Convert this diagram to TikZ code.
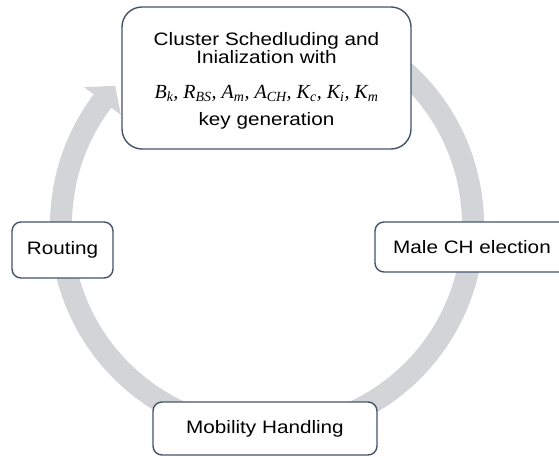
\documentclass[tikz,border=0pt]{standalone}
\usepackage{fontspec}
\setmainfont{Liberation Sans}[FakeStretch=1.15]
\newfontfamily\tmsfont{Liberation Serif}
\usetikzlibrary{calc}
\definecolor{ringgray}{HTML}{D3D4D8}
\definecolor{boxline}{HTML}{44546A}
\tikzset{
  stagebox/.style={draw=boxline, line width=1.4pt, fill=white, rounded corners=9pt,
    inner sep=0pt, font=\fontsize{18}{18}\selectfont, align=center},
}
\begin{document}
\begin{tikzpicture}[x=1pt,y=1pt]
\useasboundingbox (0,0) rectangle (559,457);
\clip (0,0) rectangle (559,457);
\coordinate (c) at (267,232);
% circular arrow
\fill[ringgray]
  ($(c)+(60:217pt)$) arc[start angle=60, end angle=-217, radius=217pt]
  -- ($(c)+(-217:229pt)$)
  -- ($(c)+(-222.5:206pt)$)
  -- ($(c)+(-217:183pt)$)
  -- ($(c)+(-217:195pt)$) arc[start angle=-217, end angle=60, radius=195pt]
  -- cycle;
% stages
\node[stagebox, rounded corners=20pt, minimum width=289pt, minimum height=142pt] (top) at (266.5,379)
  {\rule{0pt}{18pt}Cluster Schedluding and\\Inialization with\\[17pt]
   {\fontsize{20}{20}\selectfont\tmsfont\itshape B\textsubscript{k}, R\textsubscript{BS}, A\textsubscript{m}, A\textsubscript{CH}, K\textsubscript{c}, K\textsubscript{i}, K\textsubscript{m}}\\[9pt]
   key generation};
\node[stagebox, minimum width=101pt, minimum height=56pt] (routing) at (62.5,207) {Routing};
\node[stagebox, minimum width=194pt, minimum height=50pt] (male) at (472,210) {Male CH election};
\node[stagebox, minimum width=224pt, minimum height=53pt] (mob) at (265,28.5) {Mobility Handling};
\end{tikzpicture}
\end{document}
